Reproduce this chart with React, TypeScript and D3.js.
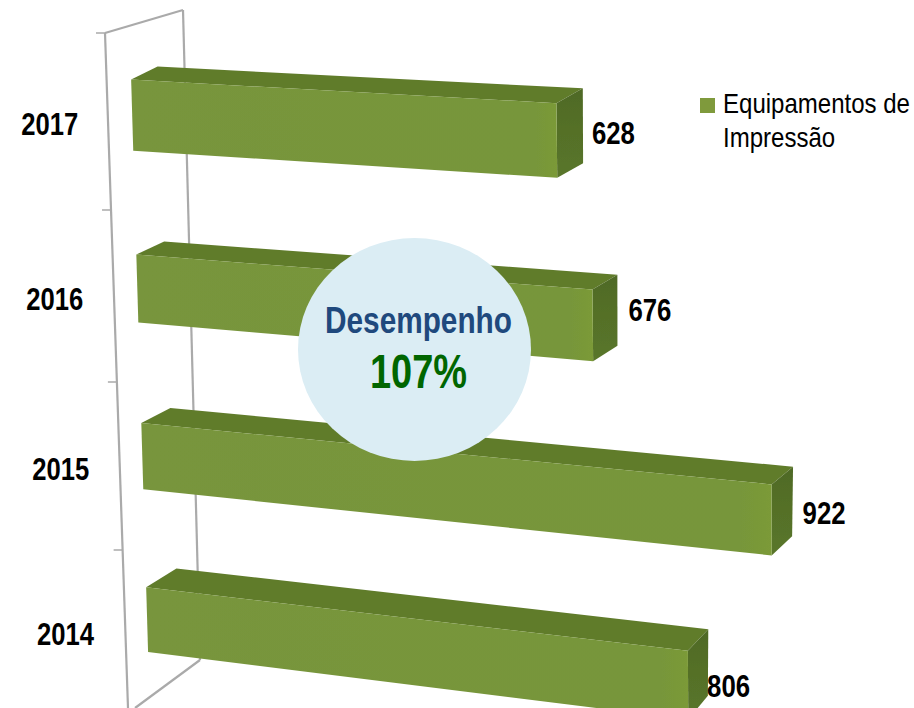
import React from "react";
import * as d3 from "d3";

const WIDTH = 914;
const HEIGHT = 708;

// data, top bar first
const years = ["2017", "2016", "2015", "2014"];
const values = [628, 676, 922, 806];
const legendLines = ["Equipamentos de", "Impressão"];
const badgeTitle = "Desempenho";
const badgeValue = "107%";

// perspective: corners of the plane holding the bars' front faces and back faces
// order: (0,top) (max,top) (max,bottom) (0,bottom)
const frontQuad = [[129.5, 24], [830, 58], [829, 789], [149.5, 700]];
const backQuad = [[155.5, 10.5], [858, 41.5], [845, 762.5], [180.5, 677.5]];

// hand placed label shifts, same order as years
const yearShiftX = [-54, -54, -53, -53];
const yearShiftY = [20, 21, 23.5, 25.5];
const valueShiftX = [9, 11, 10, -1];
const valueShiftY = [18, 11, 22.5, 34.5];

const TOP = "#607b2c";
const AXIS = "#aaaaaa";

const squareToQuad = (q: number[][]) => {
  const [[x0, y0], [x1, y1], [x2, y2], [x3, y3]] = q;
  const dx1 = x1 - x2, dx2 = x3 - x2, sx = x0 - x1 + x2 - x3;
  const dy1 = y1 - y2, dy2 = y3 - y2, sy = y0 - y1 + y2 - y3;
  const den = dx1 * dy2 - dx2 * dy1;
  const g = (sx * dy2 - dx2 * sy) / den;
  const h = (dx1 * sy - sx * dy1) / den;
  const a = x1 - x0 + g * x1, b = x3 - x0 + h * x3;
  const d = y1 - y0 + g * y1, e = y3 - y0 + h * y3;
  return (u: number, v: number): [number, number] => {
    const w = g * u + h * v + 1;
    return [(a * u + b * v + x0) / w, (d * u + e * v + y0) / w];
  };
};

const front = squareToQuad(frontQuad);
const back = squareToQuad(backQuad);

const x = d3.scaleLinear().domain([0, 1000]).range([0, 1]);
const y = d3.scaleBand().domain(years).range([0, 1]).paddingInner(0.6).paddingOuter(0.3);
// the bands get a bit closer towards the floor
const warp = d3.scalePow().exponent(0.975).domain([0, 1]).range([0, 1]);

const line = d3.line();

// frame of the chart wall
const wallFront = d3.scaleLinear().domain([33, 708]).range([105, 128]);
const wallBack = d3.scaleLinear().domain([10, 660]).range([183, 200]);
const tickY = d3.scaleLinear().domain([0, 1, 2, 3]).range([33, 210, 382, 550]);

const Bar = ({ year, value }: { year: string; value: number }) => {
  const t = warp(y(year)!);
  const b = warp(y(year)! + y.bandwidth());
  const u = x(value);
  const frontFace = [front(0, t), front(u, t), front(u, b), front(0, b)];
  const topFace = [front(0, t), back(0, t), back(u, t), front(u, t)];
  const sideFace = [front(u, t), back(u, t), back(u, b), front(u, b)];
  return (
    <g>
      <path d={line(topFace) + "Z"} fill={TOP} />
      <path d={line(sideFace) + "Z"} fill="url(#side)" />
      <path d={line(frontFace) + "Z"} fill="url(#face)" />
    </g>
  );
};

const App = () => {
  return (
    <svg
      width={WIDTH}
      height={HEIGHT}
      style={{ position: "absolute", left: 0, top: 0, background: "#fff" }}
      fontFamily="'Liberation Sans', Arial, sans-serif"
    >
      <defs>
        <linearGradient id="face" x1="0" x2="1" y1="0" y2="0">
          <stop offset="0" stopColor="#78953c" />
          <stop offset="0.95" stopColor="#77963a" />
          <stop offset="1" stopColor="#7b9a38" />
        </linearGradient>
        <linearGradient id="side" x1="0" x2="0" y1="0" y2="1">
          <stop offset="0" stopColor="#4f6a26" />
          <stop offset="1" stopColor="#5a762a" />
        </linearGradient>
        <filter id="soft" x="-5%" y="-5%" width="110%" height="110%">
          <feGaussianBlur stdDeviation="0.6" />
        </filter>
      </defs>

      <g stroke={AXIS} strokeWidth={2.2} fill="none" filter="url(#soft)">
        <path d={line([[wallFront(33), 33], [wallFront(708), 708]])!} />
        <path d={line([[wallBack(10), 10], [wallBack(660), 660]])!} />
        <path d={line([[wallFront(33), 33], [wallBack(10), 10]])!} />
        <path d={line([[wallBack(660), 660], [135, 708]])!} />
        {tickY.domain().map((d) => {
          const ty = tickY(d);
          return <path key={d} strokeWidth={1.5} d={line([[wallFront(ty) - 9, ty], [wallFront(ty), ty]])!} />;
        })}
      </g>

      <g filter="url(#soft)">
        {years.map((year, i) => (
          <Bar key={year} year={year} value={values[i]} />
        ))}
      </g>

      <g fontWeight="bold" fontSize={31} fill="#000">
        {years.map((year, i) => {
          const mid = warp(y(year)! + y.bandwidth() / 2);
          const [lx, ly] = front(0, mid);
          return (
            <text key={year} x={lx + yearShiftX[i]} y={ly + yearShiftY[i]} textAnchor="end" textLength={57} lengthAdjust="spacingAndGlyphs">
              {year}
            </text>
          );
        })}
        {years.map((year, i) => {
          const mid = warp(y(year)! + y.bandwidth() / 2);
          const [lx, ly] = back(x(values[i]), mid);
          return (
            <text key={year} x={lx + valueShiftX[i]} y={ly + valueShiftY[i]} textLength={43} lengthAdjust="spacingAndGlyphs">
              {values[i]}
            </text>
          );
        })}
      </g>

      <rect x={700} y={98} width={15} height={15} fill="#7f9a3c" />
      <text transform="translate(723,113) scale(0.89,1)" fontSize={27} fill="#000">
        {legendLines[0]}
      </text>
      <text transform="translate(723,147) scale(0.89,1)" fontSize={27} fill="#000">
        {legendLines[1]}
      </text>

      <ellipse cx={414.5} cy={349.5} rx={116.5} ry={111.5} fill="#dbedf4" />
      <text x={325} y={333} fontSize={36} fontWeight="bold" fill="#1f497d" textLength={187} lengthAdjust="spacingAndGlyphs">
        {badgeTitle}
      </text>
      <text x={370} y={388} fontSize={49} fontWeight="bold" fill="#006600" textLength={97} lengthAdjust="spacingAndGlyphs">
        {badgeValue}
      </text>
    </svg>
  );
};

export default App;
